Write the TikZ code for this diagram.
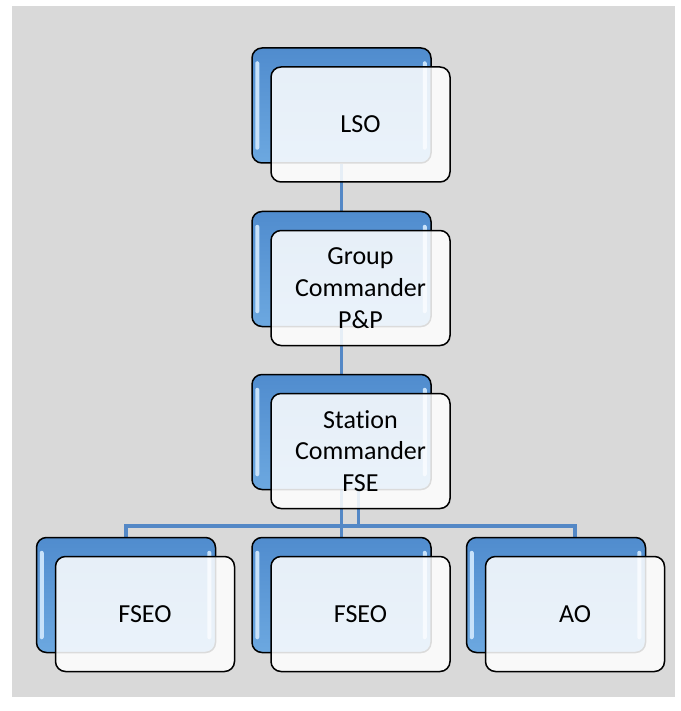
\documentclass[tikz,border=0pt]{standalone}
\usepackage{fontspec}
\setmainfont{Carlito}[Ligatures={NoCommon}]
\definecolor{bggray}{RGB}{217,217,217}
\definecolor{connblue}{RGB}{84,136,198}
\definecolor{boxtop}{RGB}{80,140,206}
\definecolor{boxbot}{RGB}{108,168,224}
\definecolor{hlc}{RGB}{200,226,250}
\pgfdeclarelayer{bglayer}
\pgfsetlayers{bglayer,main}
\newcommand\myhl[1]{%
  \fill[hlc, rounded corners=2pt] ([xshift=4pt,yshift=-14pt]#1.north west) rectangle ([xshift=8pt,yshift=14pt]#1.south west);
  \fill[hlc, rounded corners=2pt] ([xshift=-9pt,yshift=-14pt]#1.north east) rectangle ([xshift=-5pt,yshift=14pt]#1.south east);
}
\begin{document}
\begin{tikzpicture}[x=1pt,y=-1pt,
  conn/.style={draw=connblue, line width=3.2pt},
  backbox/.style={draw=black, line width=1.5pt, rounded corners=10pt,
    minimum width=179pt, minimum height=115pt, inner sep=0pt,
    top color=boxtop, bottom color=boxbot},
  frontbox/.style={draw=black, line width=1.5pt, rounded corners=10pt,
    minimum width=179pt, minimum height=115pt, inner sep=0pt,
    fill=white, fill opacity=0.86, text opacity=1, align=center,
    font=\fontsize{26}{31.7}\selectfont}]
\useasboundingbox (0,0) rectangle (680,711);

% back boxes
\node[backbox] (lsob) at (341.5,105.5) {};
\myhl{lsob}
\node[backbox] (gcb) at (341.5,269) {};
\myhl{gcb}
\node[backbox] (scb) at (341.5,432) {};
\myhl{scb}
\node[backbox] (f1b) at (126,595) {};
\myhl{f1b}
\node[backbox] (f2b) at (341.5,595) {};
\myhl{f2b}
\node[backbox] (aob) at (556,595) {};
\myhl{aob}

\coordinate (busy) at (0,526);

\begin{pgfonlayer}{bglayer}
\fill[bggray] (12,6) rectangle (675,697);
\draw[conn] (lsob.south) -- (gcb.north);
\draw[conn] (gcb.south) -- (scb.north);
\draw[conn] (scb.south) -- (f2b.north);
\draw[conn] ([xshift=17pt]scb.south) -- ([xshift=17pt]scb.south |- busy) -| (f1b.north);
\draw[conn] ([xshift=17pt]scb.south) -- ([xshift=17pt]scb.south |- busy) -| ([xshift=19pt]aob.north);
\end{pgfonlayer}

% front boxes
\node[frontbox] (lso) at (360.5,124.5) {LSO};
\node[frontbox] (gc) at (360.5,288) {Group\\Commander\\P\&P};
\node[frontbox] (sc) at (360.5,451) {Station\\Commander\\FSE};
\node[frontbox] (f1) at (145,614) {FSEO};
\node[frontbox] (f2) at (360.5,614) {FSEO};
\node[frontbox] (ao) at (575,614) {AO};
\end{tikzpicture}
\end{document}
